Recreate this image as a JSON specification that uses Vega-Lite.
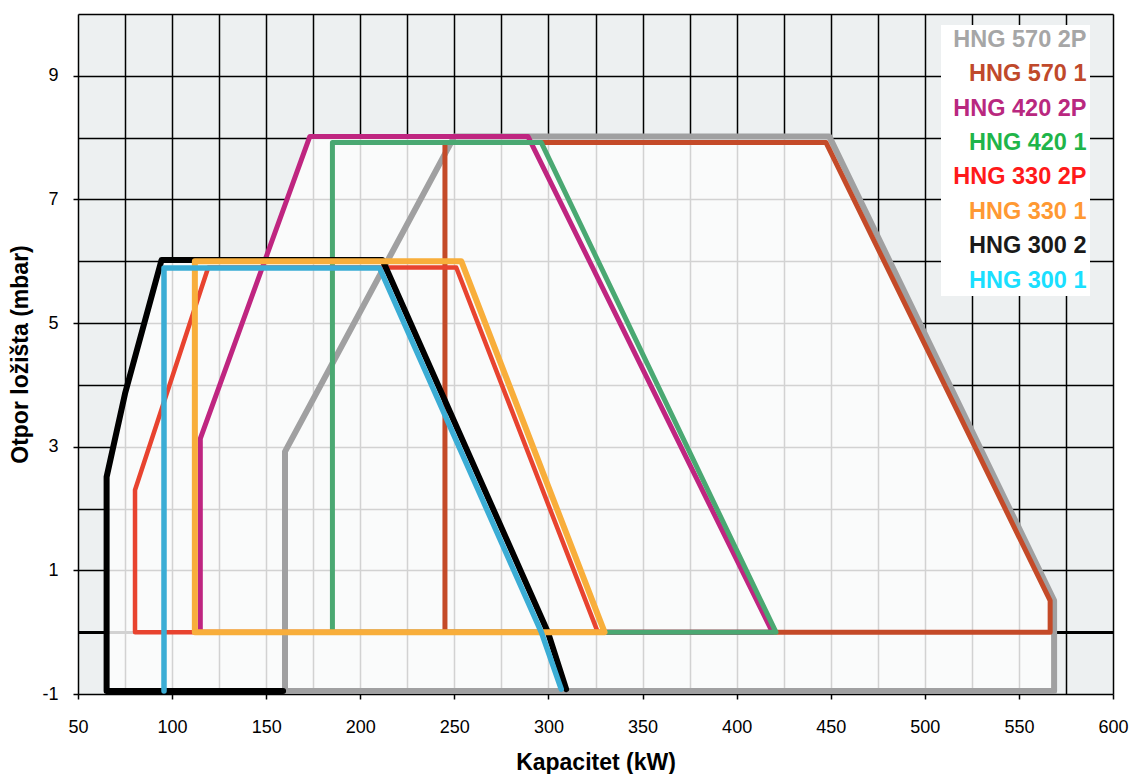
{
  "$schema": "https://vega.github.io/schema/vega-lite/v6.json",
  "width": 1035,
  "height": 680,
  "autosize": {"type": "none"},
  "padding": {"left": 78, "top": 14, "right": 18, "bottom": 80},
  "background": "white",
  "config": {"font": "Liberation Sans", "view": {"fill": "#edf0f1", "stroke": null}},
  "datasets": {
    "envelope": [
      {"kw": 65.2, "mbar": 2.51, "mbar_low": -1},
      {"kw": 75, "mbar": 3.86, "mbar_low": -1},
      {"kw": 94.4, "mbar": 6.02, "mbar_low": -1},
      {"kw": 149.4, "mbar": 6.02, "mbar_low": -1},
      {"kw": 173.2, "mbar": 8.02, "mbar_low": -1},
      {"kw": 449.2, "mbar": 8.02, "mbar_low": -1},
      {"kw": 568.7, "mbar": 0.51, "mbar_low": -1}
    ],
    "curves": [
      {"model": "HNG 570 2P", "i": 1, "kw": 160, "mbar": -0.95},
      {"model": "HNG 570 2P", "i": 2, "kw": 160, "mbar": 2.92},
      {"model": "HNG 570 2P", "i": 3, "kw": 250, "mbar": 8.02},
      {"model": "HNG 570 2P", "i": 4, "kw": 449.2, "mbar": 8.02},
      {"model": "HNG 570 2P", "i": 5, "kw": 568.7, "mbar": 0.51},
      {"model": "HNG 570 2P", "i": 6, "kw": 568.7, "mbar": -0.95},
      {"model": "HNG 570 2P", "i": 7, "kw": 160, "mbar": -0.95},
      {"model": "HNG 570 1", "i": 1, "kw": 245, "mbar": 0},
      {"model": "HNG 570 1", "i": 2, "kw": 245, "mbar": 7.92},
      {"model": "HNG 570 1", "i": 3, "kw": 447.5, "mbar": 7.92},
      {"model": "HNG 570 1", "i": 4, "kw": 566.6, "mbar": 0.51},
      {"model": "HNG 570 1", "i": 5, "kw": 566.6, "mbar": 0},
      {"model": "HNG 570 1", "i": 6, "kw": 245, "mbar": 0},
      {"model": "HNG 420 2P", "i": 1, "kw": 115, "mbar": 0},
      {"model": "HNG 420 2P", "i": 2, "kw": 115, "mbar": 3.13},
      {"model": "HNG 420 2P", "i": 3, "kw": 173.2, "mbar": 8.02},
      {"model": "HNG 420 2P", "i": 4, "kw": 289.1, "mbar": 8.02},
      {"model": "HNG 420 2P", "i": 5, "kw": 419, "mbar": 0},
      {"model": "HNG 420 2P", "i": 6, "kw": 115, "mbar": 0},
      {"model": "HNG 420 1", "i": 1, "kw": 185.2, "mbar": 0},
      {"model": "HNG 420 1", "i": 2, "kw": 185.2, "mbar": 7.92},
      {"model": "HNG 420 1", "i": 3, "kw": 296.2, "mbar": 7.92},
      {"model": "HNG 420 1", "i": 4, "kw": 420.9, "mbar": 0},
      {"model": "HNG 420 1", "i": 5, "kw": 185.2, "mbar": 0},
      {"model": "HNG 330 2P", "i": 1, "kw": 80.3, "mbar": 0},
      {"model": "HNG 330 2P", "i": 2, "kw": 80.3, "mbar": 2.3},
      {"model": "HNG 330 2P", "i": 3, "kw": 119.2, "mbar": 5.9},
      {"model": "HNG 330 2P", "i": 4, "kw": 251, "mbar": 5.9},
      {"model": "HNG 330 2P", "i": 5, "kw": 326.2, "mbar": 0},
      {"model": "HNG 330 2P", "i": 6, "kw": 80.3, "mbar": 0},
      {"model": "HNG 330 1", "i": 1, "kw": 112.1, "mbar": 0},
      {"model": "HNG 330 1", "i": 2, "kw": 112.1, "mbar": 6},
      {"model": "HNG 330 1", "i": 3, "kw": 253.7, "mbar": 6},
      {"model": "HNG 330 1", "i": 4, "kw": 329.8, "mbar": 0},
      {"model": "HNG 330 1", "i": 5, "kw": 112.1, "mbar": 0},
      {"model": "HNG 300 2", "i": 1, "kw": 159, "mbar": -0.95},
      {"model": "HNG 300 2", "i": 2, "kw": 65.2, "mbar": -0.95},
      {"model": "HNG 300 2", "i": 3, "kw": 65.2, "mbar": 2.51},
      {"model": "HNG 300 2", "i": 4, "kw": 75, "mbar": 3.86},
      {"model": "HNG 300 2", "i": 5, "kw": 94.4, "mbar": 6.02},
      {"model": "HNG 300 2", "i": 6, "kw": 211.8, "mbar": 6.02},
      {"model": "HNG 300 2", "i": 7, "kw": 299.7, "mbar": 0},
      {"model": "HNG 300 2", "i": 8, "kw": 309.4, "mbar": -0.92},
      {"model": "HNG 300 1", "i": 1, "kw": 95.7, "mbar": -0.95},
      {"model": "HNG 300 1", "i": 2, "kw": 95.7, "mbar": 5.89},
      {"model": "HNG 300 1", "i": 3, "kw": 210.3, "mbar": 5.89},
      {"model": "HNG 300 1", "i": 4, "kw": 296.2, "mbar": 0},
      {"model": "HNG 300 1", "i": 5, "kw": 306.8, "mbar": -0.92}
    ]
  },
  "encoding": {
    "x": {
      "field": "kw", "type": "quantitative",
      "scale": {"domain": [50, 600], "nice": false, "zero": false},
      "axis": {
        "title": "Kapacitet (kW)",
        "values": [50, 75, 100, 125, 150, 175, 200, 225, 250, 275, 300, 325, 350, 375, 400, 425, 450, 475, 500, 525, 550, 575, 600],
        "labelExpr": "datum.value % 50 === 0 ? '' + datum.value : ''",
        "grid": true, "gridColor": "#000000", "gridWidth": 1.5, "gridOpacity": 1,
        "domain": false,
        "tickColor": "#000000", "tickSize": 5, "tickWidth": 1.5,
        "tickOpacity": {"condition": {"test": "datum.value % 50 !== 0", "value": 0}, "value": 1},
        "labelFontSize": 18, "labelColor": "#000000", "labelPadding": 19, "labelFlush": false, "labelOverlap": false,
        "titleFontSize": 23, "titleFontWeight": "bold", "titleColor": "#000000", "titlePadding": 15
      }
    },
    "y": {
      "field": "mbar", "type": "quantitative",
      "scale": {"domain": [-1, 10], "nice": false, "zero": false},
      "axis": {
        "title": "Otpor ložišta (mbar)",
        "values": [-1, 0, 1, 2, 3, 4, 5, 6, 7, 8, 9, 10],
        "labelExpr": "abs(datum.value % 2) === 1 ? '' + datum.value : ''",
        "grid": true, "gridColor": "#000000", "gridOpacity": 1,
        "gridWidth": {"condition": {"test": "datum.value === 0", "value": 3}, "value": 1.5},
        "domain": false,
        "tickColor": "#000000", "tickSize": 5, "tickWidth": 1.5,
        "tickOpacity": {"condition": {"test": "abs(datum.value % 2) !== 1", "value": 0}, "value": 1},
        "labelFontSize": 18, "labelColor": "#000000", "labelPadding": 15, "labelFlush": false, "labelOverlap": false,
        "titleFontSize": 23, "titleFontWeight": "bold", "titleColor": "#000000", "titlePadding": 9
      }
    }
  },
  "layer": [
    {
      "data": {"name": "envelope"},
      "mark": {"type": "area", "fill": "#fcfdfd", "fillOpacity": 0.83, "stroke": null},
      "encoding": {"y2": {"field": "mbar_low"}}
    },
    {
      "data": {"name": "curves"},
      "transform": [{"filter": "datum.model === 'HNG 570 2P'"}],
      "mark": {"type": "line", "strokeWidth": 6, "strokeJoin": "round", "strokeCap": "round"},
      "encoding": {
        "order": {"field": "i", "type": "quantitative"},
        "color": {
          "field": "model", "type": "nominal",
          "scale": {"domain": ["HNG 570 2P", "HNG 570 1", "HNG 420 2P", "HNG 420 1", "HNG 330 2P", "HNG 330 1", "HNG 300 2", "HNG 300 1"],
                    "range": ["#a0a0a1", "#c44a28", "#bf2580", "#4aa872", "#e8432f", "#f8ae3b", "#000000", "#3badd5"]},
          "legend": {
            "title": null, "orient": "none", "legendX": 863, "legendY": 11,
            "fillColor": "#ffffff", "padding": 3, "strokeColor": null,
            "symbolOpacity": 0, "symbolSize": 0, "symbolStrokeWidth": 0,
            "labelFontSize": 23.5, "labelFontWeight": "bold", "labelAlign": "right", "labelOffset": 119, "labelLimit": 400,
            "rowPadding": 9.4,
            "encode": {"labels": {"update": {"fill": {"signal": "({'HNG 570 2P':'#a6a6a6','HNG 570 1':'#c0492b','HNG 420 2P':'#b9287f','HNG 420 1':'#1fb54a','HNG 330 2P':'#ff1a1a','HNG 330 1':'#ff9933','HNG 300 2':'#1a1a1a','HNG 300 1':'#1adfff'})[datum.value]"}}}}
          }
        }
      }
    },
    {
      "data": {"name": "curves"},
      "transform": [{"filter": "datum.model === 'HNG 570 1'"}],
      "mark": {"type": "line", "strokeWidth": 5, "strokeJoin": "round", "strokeCap": "round"},
      "encoding": {"order": {"field": "i", "type": "quantitative"}, "color": {"field": "model", "type": "nominal"}}
    },
    {
      "data": {"name": "curves"},
      "transform": [{"filter": "datum.model === 'HNG 420 2P'"}],
      "mark": {"type": "line", "strokeWidth": 5, "strokeJoin": "round", "strokeCap": "round"},
      "encoding": {"order": {"field": "i", "type": "quantitative"}, "color": {"field": "model", "type": "nominal"}}
    },
    {
      "data": {"name": "curves"},
      "transform": [{"filter": "datum.model === 'HNG 420 1'"}],
      "mark": {"type": "line", "strokeWidth": 5, "strokeJoin": "round", "strokeCap": "round"},
      "encoding": {"order": {"field": "i", "type": "quantitative"}, "color": {"field": "model", "type": "nominal"}}
    },
    {
      "data": {"name": "curves"},
      "transform": [{"filter": "datum.model === 'HNG 330 2P'"}],
      "mark": {"type": "line", "strokeWidth": 4.5, "strokeJoin": "round", "strokeCap": "round"},
      "encoding": {"order": {"field": "i", "type": "quantitative"}, "color": {"field": "model", "type": "nominal"}}
    },
    {
      "data": {"name": "curves"},
      "transform": [{"filter": "datum.model === 'HNG 300 2'"}],
      "mark": {"type": "line", "strokeWidth": 6, "strokeJoin": "round", "strokeCap": "round"},
      "encoding": {"order": {"field": "i", "type": "quantitative"}, "color": {"field": "model", "type": "nominal"}}
    },
    {
      "data": {"name": "curves"},
      "transform": [{"filter": "datum.model === 'HNG 330 1'"}],
      "mark": {"type": "line", "strokeWidth": 6, "strokeJoin": "round", "strokeCap": "round"},
      "encoding": {"order": {"field": "i", "type": "quantitative"}, "color": {"field": "model", "type": "nominal"}}
    },
    {
      "data": {"name": "curves"},
      "transform": [{"filter": "datum.model === 'HNG 300 1'"}],
      "mark": {"type": "line", "strokeWidth": 5.5, "strokeJoin": "round", "strokeCap": "round"},
      "encoding": {"order": {"field": "i", "type": "quantitative"}, "color": {"field": "model", "type": "nominal"}}
    }
  ]
}
